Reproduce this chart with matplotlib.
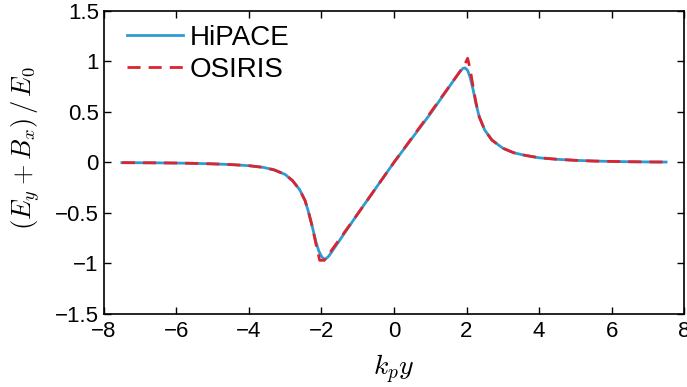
import numpy as np
import matplotlib.pyplot as plt

plt.rcParams['font.family'] = ['Liberation Sans', 'DejaVu Sans']
plt.rcParams['mathtext.fontset'] = 'cm'

# values
hipace_x = [-7.5, -7.0, -6.5, -6.0, -5.5, -5.0, -4.5, -4.0, -3.6, -3.3, -3.0, -2.8,
            -2.6, -2.45, -2.35, -2.25, -2.15, -2.07, -2.0, -1.94, -1.88, -1.8, -1.0,
            0.0, 1.0, 1.7, 1.82, 1.9, 1.96, 2.03, 2.1, 2.18, 2.26, 2.35, 2.5, 2.7,
            3.0, 3.3, 3.6, 4.0, 4.5, 5.0, 5.5, 6.0, 6.5, 7.0, 7.5]
hipace_y = [-0.003, -0.004, -0.005, -0.007, -0.010, -0.015, -0.022, -0.033, -0.050,
            -0.075, -0.12, -0.18, -0.27, -0.38, -0.50, -0.64, -0.79, -0.88, -0.93,
            -0.955, -0.955, -0.93, -0.51, 0.0, 0.48, 0.84, 0.90, 0.93, 0.935, 0.91,
            0.84, 0.72, 0.58, 0.45, 0.32, 0.22, 0.14, 0.095, 0.07, 0.045, 0.03,
            0.02, 0.013, 0.009, 0.006, 0.004, 0.003]

osiris_x = [-7.5, -7.0, -6.5, -6.0, -5.5, -5.0, -4.5, -4.0, -3.6, -3.3, -3.0, -2.8,
            -2.6, -2.45, -2.35, -2.25, -2.15, -2.08, -2.05, -1.92, -1.0, 0.0, 1.0,
            1.8, 1.95, 2.03, 2.1, 2.18, 2.26, 2.35, 2.5, 2.7, 3.0, 3.3, 3.6, 4.0,
            4.5, 5.0, 5.5, 6.0, 6.5, 7.0, 7.5]
osiris_y = [-0.003, -0.004, -0.005, -0.007, -0.010, -0.015, -0.022, -0.033, -0.050,
            -0.075, -0.12, -0.18, -0.27, -0.38, -0.50, -0.64, -0.81, -0.92, -0.97,
            -0.97, -0.51, 0.0, 0.49, 0.89, 0.97, 1.03, 0.92, 0.75, 0.59, 0.45, 0.32,
            0.22, 0.14, 0.095, 0.07, 0.045, 0.03, 0.02, 0.013, 0.009, 0.006, 0.004,
            0.003]

fig = plt.figure(figsize=(6.87, 3.87), dpi=100)
ax = fig.add_axes([0.151, 0.189, 0.845, 0.783])

ax.plot(hipace_x, hipace_y, color='#2f9bd2', linewidth=2.0, label='HiPACE')
ax.plot(osiris_x, osiris_y, color='#dc2430', linewidth=2.0, linestyle=(0, (4.7, 2.9)),
        label='OSIRIS')

ax.set(xlim=(-8, 8), ylim=(-1.5, 1.5))
ax.set_xticks(np.arange(-8, 9, 2))
ax.set_yticks([-1.5, -1, -0.5, 0, 0.5, 1, 1.5])
ax.set_yticklabels(['\u22121.5', '\u22121', '\u22120.5', '0', '0.5', '1', '1.5'])
ax.set_xticklabels(['\u22128', '\u22126', '\u22124', '\u22122', '0', '2', '4', '6', '8'])
ax.tick_params(direction='in', top=True, right=True, labelsize=16, length=5, width=1)
ax.tick_params(axis='x', pad=5)
for s in ax.spines.values():
    s.set_linewidth(1.2)

ax.set_xlabel('$k_p y$', fontsize=20)
ax.set_ylabel('$(E_y + B_x)\\,/\\,E_0$', fontsize=19)
ax.xaxis.set_label_coords(0.5, -0.13)
ax.yaxis.set_label_coords(-0.107, 0.545)

ax.legend(loc='upper left', bbox_to_anchor=(0.021, 0.99), frameon=False, fontsize=20,
          handlelength=2.0, handletextpad=0.25, labelspacing=0.2, borderaxespad=0)

fig.savefig('out.png', dpi=100)
